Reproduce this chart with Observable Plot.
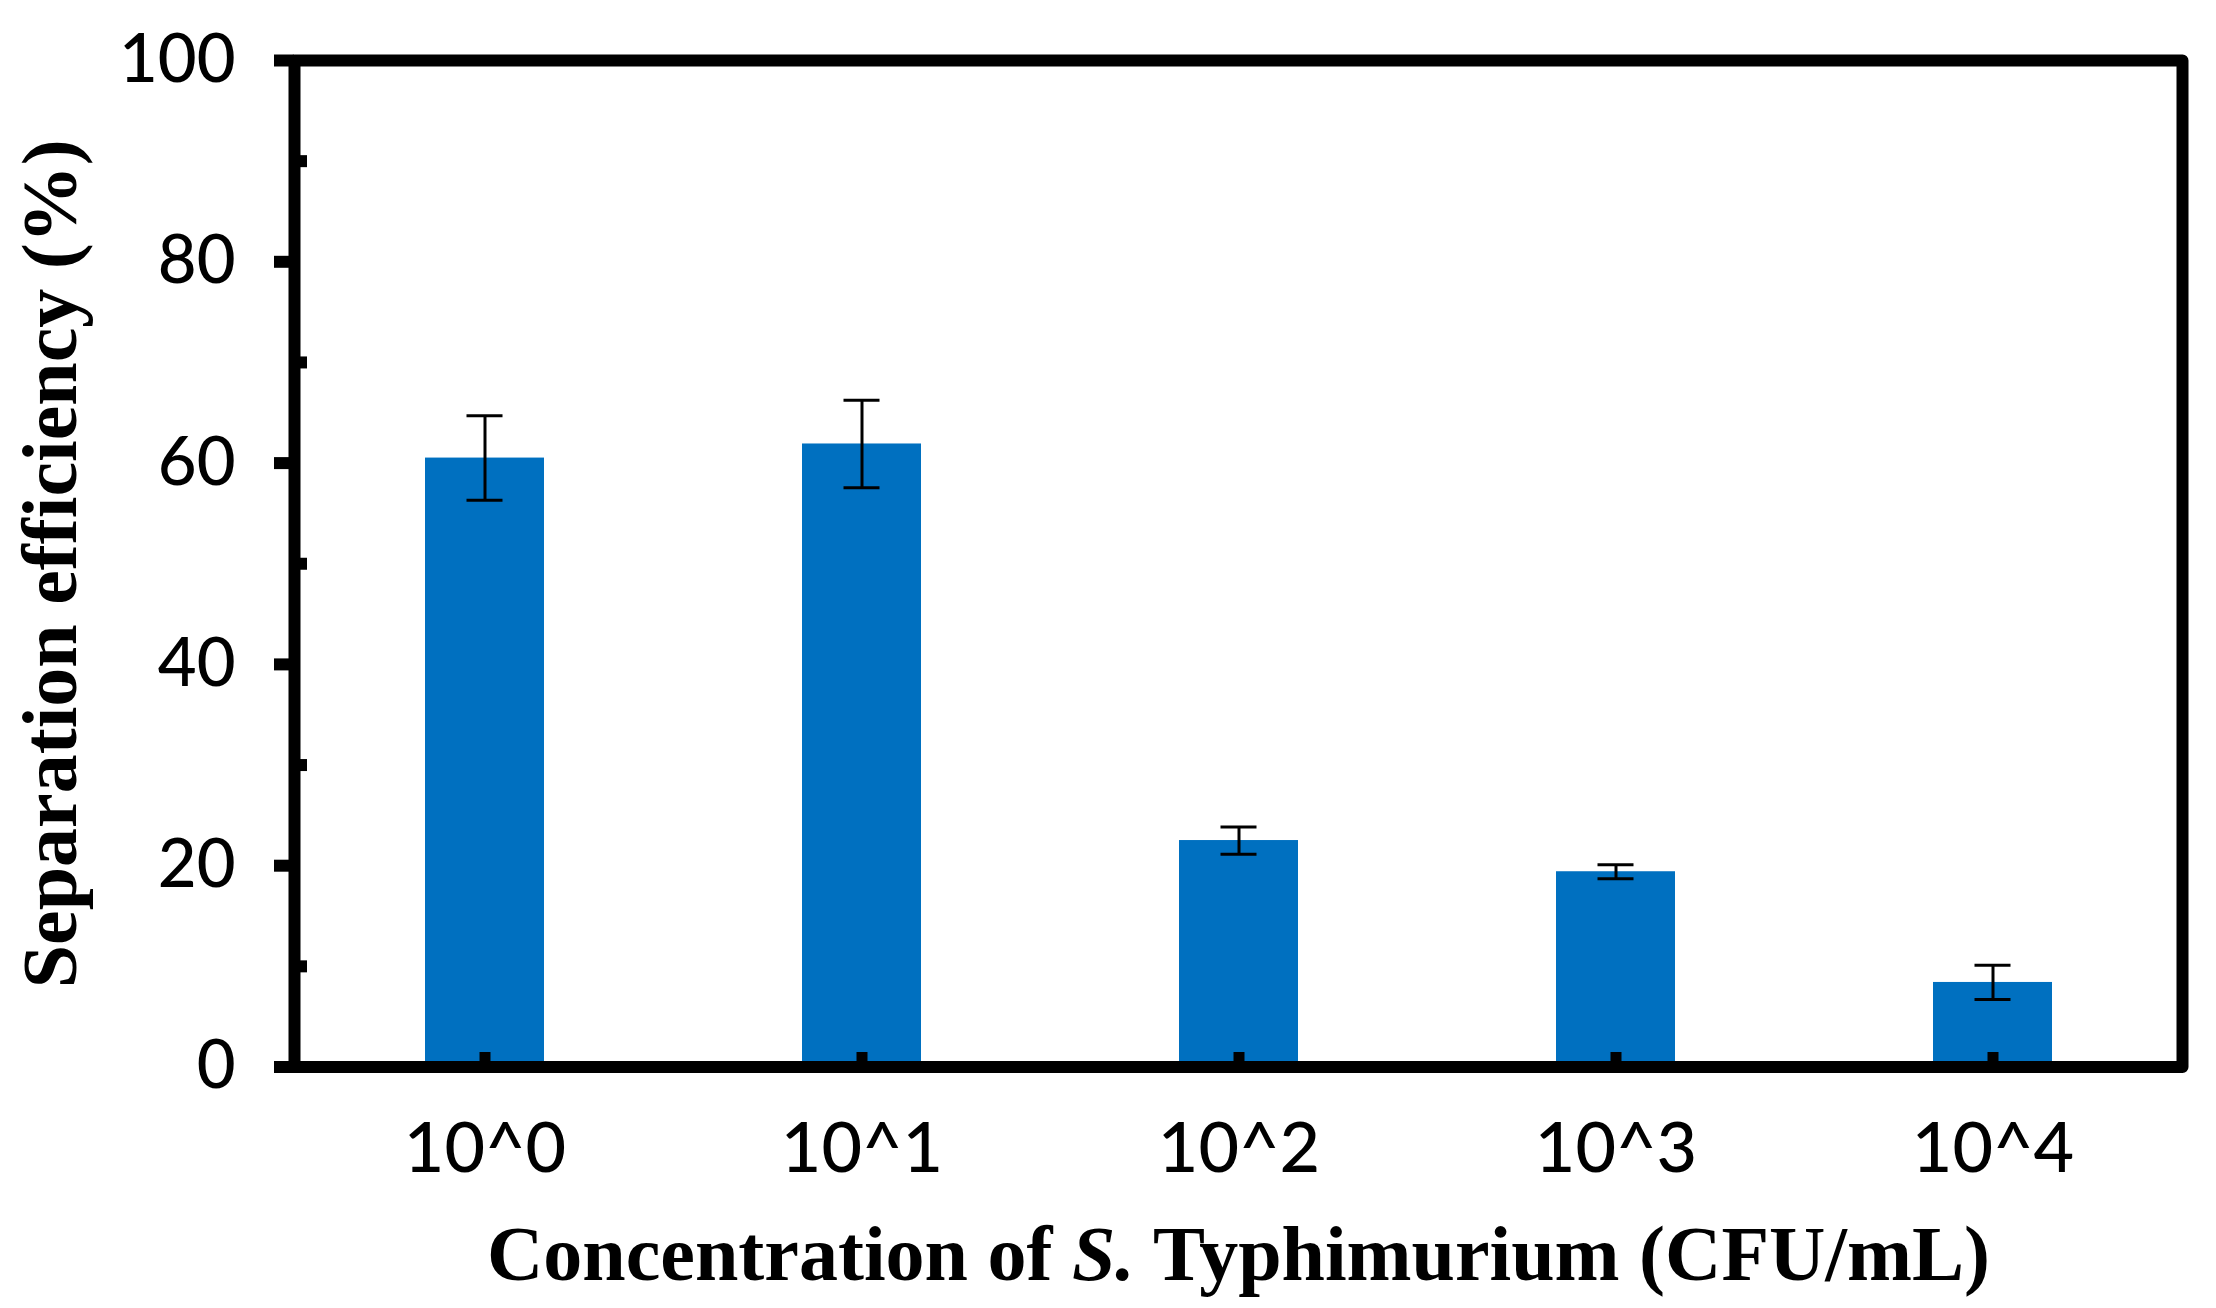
<!DOCTYPE html>
<html>
<head>
<meta charset="utf-8">
<script src="https://cdn.jsdelivr.net/npm/d3@7"></script>
<script src="https://cdn.jsdelivr.net/npm/@observablehq/plot@0.6"></script>
<style>
  html, body { margin: 0; padding: 0; background: #fff; }
  #chart svg { display: block; }
</style>
</head>
<body>
<div id="chart"></div>
<script>
const categories = ["10^0", "10^1", "10^2", "10^3", "10^4"];
const values = [60.5, 61.9, 22.5, 19.4, 8.4];
const errors = [4.2, 4.35, 1.35, 0.7, 1.7];
const majorTicks = [0, 20, 40, 60, 80, 100];
const minorTicks = [10, 30, 50, 70, 90];
const yTitle = "Separation efficiency (%)";
const xTitle = "Concentration of S. Typhimurium (CFU/mL)";

const data = categories.map((c, i) => ({
  cat: c, value: values[i], lo: values[i] - errors[i], hi: values[i] + errors[i]
}));

const tickFont = "Lato, 'Open Sans', sans-serif";
const titleFont = "'Liberation Serif', 'Times New Roman', serif";

const chart = Plot.plot({
  width: 2216,
  height: 1308,
  marginLeft: 294,
  marginRight: 34,
  marginTop: 60,
  marginBottom: 241.5,
  style: { background: "#fff", color: "#000", overflow: "visible" },
  x: { domain: categories, paddingInner: 0.685, paddingOuter: 0.3425, label: null },
  y: { domain: [0, 100], label: null },
  marks: [
    Plot.barY(data, { x: "cat", y: "value", fill: "#0070C0" }),
    Plot.ruleX(data, { x: "cat", y1: "lo", y2: "hi", stroke: "#000", strokeWidth: 3 }),
    Plot.tickY(data, { x: "cat", y: "hi", stroke: "#000", strokeWidth: 3, insetLeft: 41.5, insetRight: 41.5 }),
    Plot.tickY(data, { x: "cat", y: "lo", stroke: "#000", strokeWidth: 3, insetLeft: 41.5, insetRight: 41.5 }),
    Plot.frame({ stroke: "#000", strokeWidth: 12, strokeLinejoin: "round" }),
    Plot.axisY({ ticks: majorTicks, tickSize: 20, strokeWidth: 12, tickPadding: 39,
      fontSize: 67, fontFamily: tickFont, fontWeight: 500, label: null, tickFormat: d => d }),
    Plot.axisY({ ticks: minorTicks, tickSize: 13, dx: 13, strokeWidth: 12, text: null, label: null }),
    Plot.axisX({ tickSize: 14.5, dy: -14.5, strokeWidth: 11, text: null, label: null }),
    Plot.axisX({ tickSize: 0, tickPadding: 55, fontSize: 70, fontFamily: tickFont, fontWeight: 500, label: null }),
    Plot.text([yTitle], { text: d => d, frameAnchor: "left", textAnchor: "middle", rotate: -90, lineAnchor: "bottom",
      dx: -219, fontSize: 78, fontWeight: "bold", fontFamily: titleFont, fill: "#000" }),
    Plot.text([xTitle], { text: d => d, frameAnchor: "bottom", lineAnchor: "bottom",
      dy: 213, fontSize: 78, fontWeight: "bold", fontFamily: titleFont, fill: "#000" })
  ]
});

document.getElementById("chart").appendChild(chart);

// italicise "S." in the x title
d3.select(chart).selectAll("text").each(function () {
  if (this.textContent === xTitle) {
    const t = d3.select(this);
    t.text(null).style("white-space", "pre");
    t.append("tspan").text("Concentration of ");
    t.append("tspan").attr("font-style", "italic").text("S.");
    t.append("tspan").text(" Typhimurium (CFU/mL)");
  }
});
</script>
</body>
</html>
